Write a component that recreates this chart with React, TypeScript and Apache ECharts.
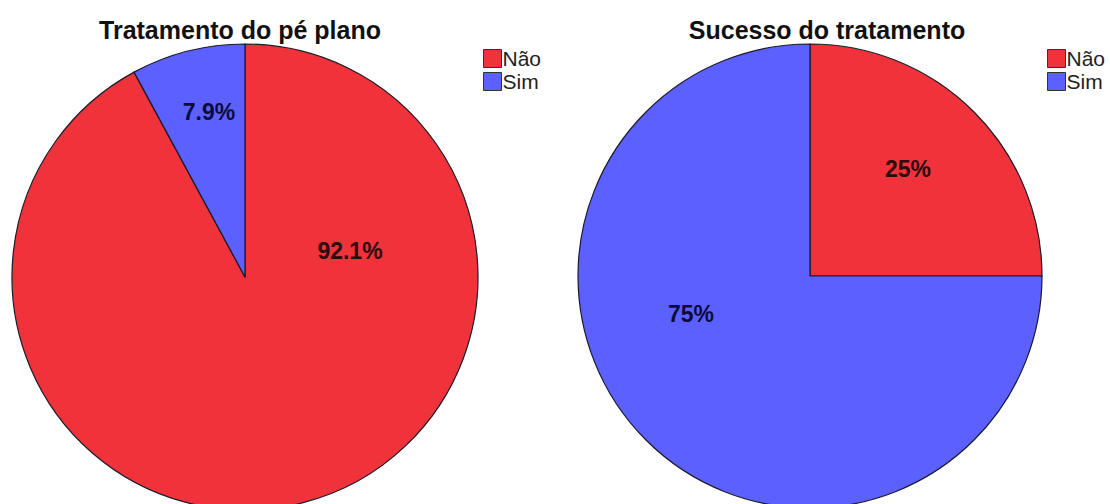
import React, { useEffect, useRef } from "react";
import * as echarts from "echarts";

const categories = ["Não", "Sim"];
const titles = ["Tratamento do pé plano", "Sucesso do tratamento"];
const treatmentValues = [92.1, 7.9];
const successValues = [25, 75];

const RED = "#F0323A";
const BLUE = "#5B60FE";
const centers = [
  [245, 277],
  [810, 276],
];
const radii = [233, 232];
// label offsets relative to pie centre (px), per series / item
const labelOffsets = [
  [
    [105, -26],
    [-36, -165],
  ],
  [
    [98, -107],
    [-119, 38],
  ],
];
const labelColors = ["#2a0a0c", "#0c0c3c"];

export default function App() {
  const ref = useRef<HTMLDivElement>(null);
  useEffect(() => {
    if (!ref.current) return;
    const chart = echarts.init(ref.current, undefined, { renderer: "svg" });
    const makeData = (vals: number[]) =>
      vals.map((v, i) => ({
        name: categories[i],
        value: v,
        itemStyle: { color: i === 0 ? RED : BLUE },
        label: { color: labelColors[i] },
      }));
    const allVals = [treatmentValues, successValues];
    chart.setOption({
      animation: false,
      backgroundColor: "#ffffff",
      title: titles.map((t, i) => ({
        text: t,
        left: i === 0 ? 240 : 827,
        top: 17,
        textAlign: "center",
        padding: 0,
        textStyle: {
          fontFamily: "Liberation Sans",
          fontWeight: "bold",
          fontSize: 25,
          color: "#111111",
        },
      })),
      legend: [0, 1].map((i) => ({
        orient: "vertical",
        left: i === 0 ? 483 : 1047,
        top: 48,
        padding: 0,
        itemWidth: 18,
        itemHeight: 18,
        itemGap: 2,
        icon: "rect",
        data: categories,
        selectedMode: false,
        itemStyle: { borderColor: "#333333", borderWidth: 1 },
        textStyle: {
          fontFamily: "Liberation Sans",
          fontSize: 21,
          color: "#222222",
          padding: [0, 0, 0, -4],
        },
      })),
      series: [0, 1].map((s) => ({
        type: "pie",
        center: centers[s],
        radius: radii[s],
        startAngle: 90,
        clockwise: true,
        data: makeData(allVals[s]),
        itemStyle: { borderColor: "#1a1a2a", borderWidth: 1.2 },
        emphasis: { disabled: true },
        label: {
          show: true,
          position: "inside",
          formatter: "{c}%",
          fontFamily: "Liberation Sans",
          fontWeight: "bold",
          fontSize: 23,
        },
        labelLine: { show: false },
        labelLayout: (params: any) => {
          const off = labelOffsets[s][params.dataIndex];
          return {
            x: centers[s][0] + off[0],
            y: centers[s][1] + off[1],
            align: "center",
            verticalAlign: "middle",
          };
        },
      })),
    });
    return () => chart.dispose();
  }, []);
  return (
    <div
      ref={ref}
      style={{ position: "fixed", left: 0, top: 0, width: 1110, height: 504 }}
    />
  );
}
